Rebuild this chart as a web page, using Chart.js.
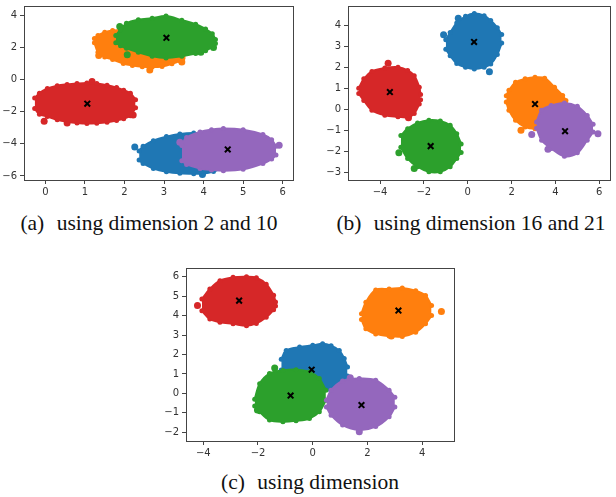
<!DOCTYPE html>
<html>
<head>
<meta charset="utf-8">
<script src="https://cdn.jsdelivr.net/npm/chart.js@4.4.1/dist/chart.umd.min.js"></script>
<style>
  body { margin: 0; width: 616px; height: 497px; background: #fff; position: relative; overflow: hidden; }
  canvas { position: absolute; }
  .cap {
    position: absolute;
    font-family: 'Liberation Serif', 'Times New Roman', serif;
    font-size: 21.5px;
    color: #111;
    white-space: pre;
    transform: translate(-50%, -50%);
  }
  .cap span { margin-right: 7px; }
</style>
</head>
<body>
<canvas id="chartA" width="300" height="200" style="left:0px;top:0px"></canvas>
<canvas id="chartB" width="298" height="200" style="left:318px;top:0px"></canvas>
<canvas id="chartC" width="300" height="200" style="left:160px;top:262px"></canvas>
<div class="cap" style="left:149px;top:223px"><span>(a)</span> using dimension 2 and 10</div>
<div class="cap" style="left:471px;top:223px"><span>(b)</span> using dimension 16 and 21</div>
<div class="cap" style="left:310px;top:482px"><span>(c)</span> using dimension</div>

<script>
// each cluster row: [x, upper edge y, lower edge y], read off the scatter blobs
// (a) using dimension 2 and 10
const aBlue = [[2.37,-4.45,-5.0],[2.47,-4.15,-5.22],[2.73,-3.8,-5.53],[3.06,-3.55,-5.73],[3.4,-3.38,-5.83],[3.75,-3.32,-5.86],[4.0,-3.4,-5.85],[4.25,-3.6,-5.72],[4.45,-4.0,-5.5]];
const aOrange = [[1.24,2.55,2.3],[1.33,2.75,1.7],[1.5,2.95,1.4],[1.7,3.05,1.25],[1.97,3.08,1.0],[2.2,3.0,0.88],[2.45,2.9,0.8],[2.7,2.75,0.78],[2.95,2.5,0.82],[3.2,2.2,0.98],[3.4,1.85,1.18],[3.48,1.5,1.35]];
const aGreen = [[1.78,2.75,2.3],[1.9,3.1,2.1],[2.05,3.5,1.95],[2.35,3.72,1.7],[2.7,3.82,1.45],[3.05,3.95,1.35],[3.45,3.7,1.45],[3.8,3.45,1.62],[4.05,3.15,1.8],[4.22,2.85,2.05],[4.3,2.5,2.25]];
const aRed = [[-0.27,-1.15,-1.8],[-0.15,-0.85,-2.15],[0.05,-0.55,-2.3],[0.3,-0.38,-2.5],[0.55,-0.3,-2.62],[0.8,-0.25,-2.7],[1.05,-0.22,-2.74],[1.3,-0.25,-2.72],[1.56,-0.35,-2.66],[1.8,-0.5,-2.55],[1.98,-0.66,-2.43],[2.15,-0.85,-2.25],[2.28,-1.25,-1.75]];
const aPurple = [[3.45,-4.1,-5.05],[3.57,-3.6,-5.28],[3.91,-3.26,-5.53],[4.2,-3.12,-5.62],[4.5,-3.05,-5.67],[5.0,-3.12,-5.58],[5.5,-3.42,-5.22],[5.72,-3.75,-4.95],[5.83,-4.15,-4.7]];
const aBlueOut = [[2.26,-4.19],[3.97,-5.9]];
const aOrangeOut = [[2.64,0.6],[1.35,1.5],[3.45,1.1]];
const aGreenOut = [[1.88,3.3],[2.07,1.55],[3.93,1.7],[4.25,2.0]];
const aRedOut = [[-0.03,-2.6],[0.55,-2.7],[1.18,-0.12],[2.22,-2.2]];
const aPurpleOut = [[3.4,-3.9],[5.91,-4.08]];
const aCenters = [[1.06,-1.5],[3.06,2.6],[4.61,-4.35]];
const aXTicks = [0, 1, 2, 3, 4, 5, 6];
const aYTicks = [-6, -4, -2, 0, 2, 4];

// (b) using dimension 16 and 21
const bBlue = [[-1.0,3.3,2.85],[-0.8,3.65,2.55],[-0.5,4.1,2.18],[-0.1,4.42,2.0],[0.3,4.55,1.92],[0.75,4.45,2.0],[1.05,4.22,2.15],[1.35,3.88,2.6],[1.55,3.55,3.15]];
const bOrange = [[1.76,0.65,0.35],[1.88,0.9,-0.05],[2.18,1.28,-0.52],[2.62,1.45,-0.84],[3.07,1.52,-0.92],[3.51,1.48,-0.85],[3.96,1.05,-0.45],[4.33,0.66,0.0],[4.48,0.42,0.25]];
const bGreen = [[-3.05,-1.25,-1.8],[-2.74,-0.92,-2.34],[-2.29,-0.65,-2.73],[-1.77,-0.52,-2.97],[-1.25,-0.56,-2.97],[-0.8,-0.76,-2.73],[-0.5,-1.16,-2.34],[-0.3,-1.65,-2.05]];
const bRed = [[-4.97,1.0,0.75],[-4.74,1.45,0.42],[-4.37,1.8,-0.05],[-3.78,1.96,-0.28],[-3.18,2.0,-0.35],[-2.74,1.85,-0.38],[-2.44,1.6,-0.2],[-2.21,1.05,0.25],[-2.15,0.7,0.45]];
const bPurple = [[3.14,-0.6,-0.9],[3.37,-0.05,-1.47],[3.81,0.18,-1.86],[4.41,0.3,-2.23],[5.0,0.14,-2.07],[5.45,-0.29,-1.47],[5.72,-0.71,-1.08]];
const bBlueOut = [[-1.1,3.54],[-0.43,4.33],[0.99,1.79]];
const bOrangeOut = [[2.43,-1.0]];
const bGreenOut = [[-3.14,-2.07],[-2.44,-2.81]];
const bRedOut = [[-3.63,2.19],[-2.7,-0.4]];
const bPurpleOut = [[2.92,-1.2],[5.94,-1.16],[3.66,-1.9]];
const bCenters = [[0.29,3.2],[-3.55,0.82],[-1.69,-1.75],[3.07,0.25],[4.44,-1.04]];
const bXTicks = [-4, -2, 0, 2, 4, 6];
const bYTicks = [-3, -2, -1, 0, 1, 2, 3, 4];

// (c) using dimension
const cBlue = [[-1.15,1.75,1.2],[-0.97,2.21,0.8],[-0.48,2.38,0.5],[0.0,2.47,0.3],[0.36,2.55,0.2],[0.67,2.45,0.16],[0.97,2.2,0.42],[1.15,1.8,0.65],[1.27,1.36,0.9]];
const cOrange = [[1.78,4.1,3.8],[1.94,4.69,3.32],[2.3,5.32,3.06],[2.79,5.37,2.95],[3.27,5.42,2.93],[3.76,5.28,3.15],[4.12,5.03,3.58],[4.34,4.52,4.0]];
const cGreen = [[-2.12,-0.3,-0.65],[-1.94,0.5,-0.95],[-1.58,1.02,-1.37],[-1.09,1.18,-1.46],[-0.61,1.22,-1.41],[-0.12,1.1,-1.29],[0.24,0.76,-0.95],[0.48,0.16,-0.35]];
const cRed = [[-4.05,4.85,4.25],[-3.76,5.37,3.83],[-3.39,5.8,3.66],[-2.91,5.97,3.58],[-2.42,6.0,3.48],[-2.06,5.95,3.6],[-1.7,5.62,3.92],[-1.43,5.05,4.3],[-1.36,4.7,4.5]];
const cPurple = [[0.5,-0.35,-0.7],[0.67,0.16,-1.12],[1.09,0.64,-1.63],[1.7,0.76,-1.88],[2.3,0.68,-1.71],[2.79,0.16,-1.2],[3.0,-0.2,-0.7]];
const cBlueOut = [];
const cOrangeOut = [[4.7,4.21],[2.87,2.95]];
const cGreenOut = [[-1.39,1.31],[-2.02,-0.86]];
const cRedOut = [[-4.21,4.52]];
const cPurpleOut = [[1.37,0.8],[1.7,-1.97]];
const cCenters = [[-2.69,4.77],[3.13,4.26],[-0.04,1.22],[-0.81,-0.11],[1.78,-0.6]];
const cXTicks = [-4, -2, 0, 2, 4];
const cYTicks = [-2, -1, 0, 1, 2, 3, 4, 5, 6];

const BLUE = '#1f77b4', ORANGE = '#ff7f0e', GREEN = '#2ca02c', RED = '#d62728', PURPLE = '#9467bd';

function pts(list) {
    return list.map(p => ({ x: p[0], y: p[1] }));
}

// upper edge filled down to lower edge, plus the stray dots
function cluster(rows, strays, color) {
    const edge = {
        type: 'line',
        borderColor: color,
        backgroundColor: color,
        borderWidth: 2,
        pointRadius: 2.5,
        pointBorderWidth: 0,
        pointBackgroundColor: color,
        tension: 0.35
    };
    return [
        Object.assign({ data: rows.map(r => ({ x: r[0], y: r[1] })), fill: '+1' }, edge),
        Object.assign({ data: rows.map(r => ({ x: r[0], y: r[2] })), fill: false }, edge),
        { data: pts(strays), pointRadius: 3.5, pointBorderWidth: 0, backgroundColor: color }
    ];
}

function minus(v) {
    return v < 0 ? '\u2212' + Math.abs(v) : '' + v;
}

function axis(range, ticks, size, horizontal) {
    return {
        type: 'linear',
        min: range[0],
        max: range[1],
        grid: { display: true, drawOnChartArea: false, drawTicks: true, tickLength: 4, tickColor: '#444' },
        border: { display: true, color: '#444', width: 1 },
        ticks: {
            color: '#333',
            font: { family: 'DejaVu Sans', size: 10 },
            padding: horizontal ? 2 : 3,
            maxRotation: 0,
            autoSkip: false,
            callback: minus
        },
        afterBuildTicks: s => { s.ticks = ticks.map(v => ({ value: v })); },
        afterFit: s => {
            if (horizontal) s.height = size; else s.width = size;
            s.paddingTop = 0; s.paddingBottom = 0; s.paddingLeft = 0; s.paddingRight = 0;
        }
    };
}

function frame(pos) {
    return {
        position: pos,
        display: true,
        grid: { display: false },
        ticks: { display: false },
        border: { display: true, color: '#444', width: 1 },
        afterFit: s => {
            if (pos === 'top') s.height = 0; else s.width = 0;
            s.paddingTop = 0; s.paddingBottom = 0; s.paddingLeft = 0; s.paddingRight = 0;
        }
    };
}

function drawPanel(id, p) {
    const datasets = [{
        data: pts(p.centers),
        pointStyle: 'crossRot',
        pointRadius: 4,
        borderWidth: 2,
        borderColor: '#000'
    }].concat(
        cluster(p.purple, p.purpleOut, PURPLE),
        cluster(p.red, p.redOut, RED),
        cluster(p.green, p.greenOut, GREEN),
        cluster(p.orange, p.orangeOut, ORANGE),
        cluster(p.blue, p.blueOut, BLUE)
    );
    return new Chart(document.getElementById(id), {
        type: 'scatter',
        data: { datasets: datasets },
        options: {
            responsive: false,
            animation: false,
            events: [],
            layout: { padding: p.pad },
            plugins: { legend: { display: false }, tooltip: { enabled: false } },
            scales: {
                x: axis(p.xRange, p.xTicks, 20, true),
                y: axis(p.yRange, p.yTicks, p.yWidth, false),
                xTop: frame('top'),
                yRight: frame('right')
            }
        }
    });
}

drawPanel('chartA', {
    blue: aBlue, orange: aOrange, green: aGreen, red: aRed, purple: aPurple,
    blueOut: aBlueOut, orangeOut: aOrangeOut, greenOut: aGreenOut, redOut: aRedOut, purpleOut: aPurpleOut,
    centers: aCenters, xTicks: aXTicks, yTicks: aYTicks,
    xRange: [-0.54, 6.26], yRange: [-6.25, 4.58],
    yWidth: 24, pad: { left: 0, top: 5, right: 7, bottom: 0 }
});

drawPanel('chartB', {
    blue: bBlue, orange: bOrange, green: bGreen, red: bRed, purple: bPurple,
    blueOut: bBlueOut, orangeOut: bOrangeOut, greenOut: bGreenOut, redOut: bRedOut, purpleOut: bPurpleOut,
    centers: bCenters, xTicks: bXTicks, yTicks: bYTicks,
    xRange: [-5.46, 6.49], yRange: [-3.36, 4.91],
    yWidth: 30, pad: { left: 0, top: 5, right: 0, bottom: 0 }
});

drawPanel('chartC', {
    blue: cBlue, orange: cOrange, green: cGreen, red: cRed, purple: cPurple,
    blueOut: cBlueOut, orangeOut: cOrangeOut, greenOut: cGreenOut, redOut: cRedOut, purpleOut: cPurpleOut,
    centers: cCenters, xTicks: cXTicks, yTicks: cYTicks,
    xRange: [-4.63, 5.16], yRange: [-2.45, 6.45],
    yWidth: 26, pad: { left: 0, top: 5, right: 5, bottom: 1 }
});
</script>
</body>
</html>
